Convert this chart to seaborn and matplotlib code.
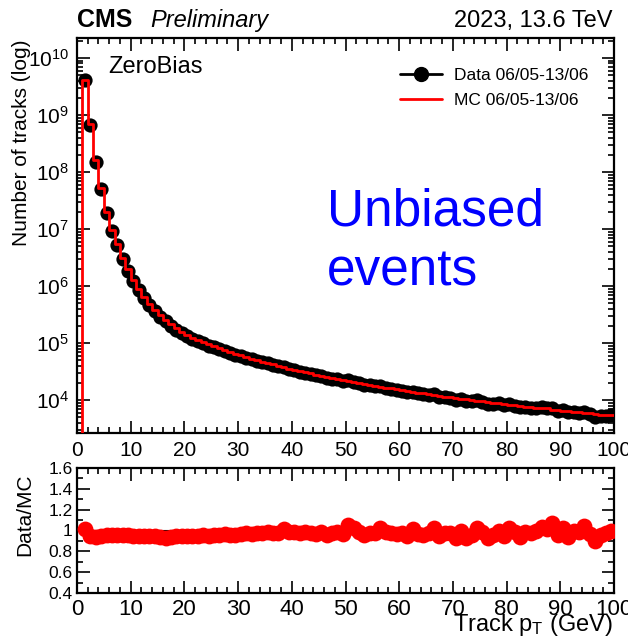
import numpy as np
import pandas as pd
import matplotlib
matplotlib.use("Agg")
import matplotlib.pyplot as plt
import seaborn as sns
from matplotlib.lines import Line2D
from matplotlib.ticker import (MultipleLocator, LogLocator, NullFormatter,
                               FormatStrFormatter)

# Track pT binning: 1 GeV bins from 1 to 100 GeV
bin_edges = list(range(1, 101))

# Simulated (MC) number of tracks per bin
mc_tracks = [
    4.07e9, 7.0e8, 1.62e8, 5.25e7, 2.0e7, 9.5e6, 5.4e6, 3.16e6, 1.95e6, 1.29e6,
    8.9e5, 6.45e5, 4.9e5, 3.8e5, 3.09e5, 2.57e5, 2.14e5, 1.82e5, 1.58e5,
    1.37e5, 1.24e5, 1.13e5, 1.035e5, 9.5e4, 8.75e4, 8.09e4, 7.50e4, 6.97e4, 6.49e4,
    6.07e4, 5.68e4, 5.32e4, 5.00e4, 4.71e4, 4.45e4, 4.20e4, 3.97e4, 3.76e4, 3.56e4,
    3.39e4, 3.23e4, 3.07e4, 2.93e4, 2.79e4, 2.67e4, 2.55e4, 2.44e4, 2.34e4, 2.25e4,
    2.16e4, 2.07e4, 1.99e4, 1.91e4, 1.85e4, 1.78e4, 1.71e4, 1.65e4, 1.60e4, 1.54e4,
    1.49e4, 1.44e4, 1.39e4, 1.35e4, 1.31e4, 1.26e4, 1.23e4, 1.19e4, 1.15e4, 1.12e4,
    1.09e4, 1.057e4, 1.03e4, 1.00e4, 9710, 9460, 9200, 8950, 8730, 8510,
    8300, 8070, 7890, 7690, 7500, 7330, 7160, 7150, 6820, 6670,
    6520, 6550, 6240, 6100, 5970, 5850, 5710, 5450, 5480, 5370,
]

# Data / MC ratio per bin
data_mc_ratio = [
    1.01, 0.95, 0.94, 0.95, 0.96, 0.96, 0.96, 0.955, 0.955,
    0.95, 0.95, 0.945, 0.945, 0.945, 0.94, 0.93, 0.94, 0.945, 0.945,
    0.95, 0.945, 0.95, 0.955, 0.95, 0.955, 0.96, 0.965, 0.955, 0.96,
    0.965, 0.975, 0.97, 0.98, 0.975, 0.99, 0.975, 0.98, 1.01, 0.99,
    0.985, 0.975, 0.985, 0.98, 0.97, 0.99, 0.96, 0.975, 0.985, 0.97,
    1.05, 1.02, 0.99, 0.96, 0.975, 0.98, 1.02, 0.985, 0.975, 0.97,
    0.975, 0.945, 1.015, 0.97, 0.96, 0.98, 1.025, 0.945, 0.975, 0.98,
    0.925, 1.0, 0.93, 0.96, 1.025, 0.985, 0.925, 0.96, 1.0, 0.945,
    1.02, 0.985, 0.94, 0.99, 0.98, 1.0, 1.035, 1.01, 1.07, 0.96,
    1.02, 0.94, 1.0, 0.985, 1.045, 0.97, 0.90, 0.955, 0.975, 1.0,
]

legend_labels = ["Data 06/05-13/06", "MC 06/05-13/06"]

edges = np.array(bin_edges, dtype=float)
centers = (edges[:-1] + edges[1:]) / 2
mc = np.array(mc_tracks, dtype=float)
ratio = np.array(data_mc_ratio, dtype=float)
df = pd.DataFrame({"pt": centers, "mc": mc, "ratio": ratio,
                   "data": mc * ratio})

sns.set_theme(style="ticks")
plt.rcParams["font.family"] = ["Liberation Sans", "DejaVu Sans"]
plt.rcParams["mathtext.default"] = "regular"
plt.rcParams["text.color"] = "black"
plt.rcParams["axes.labelcolor"] = "black"
plt.rcParams["xtick.color"] = "black"
plt.rcParams["ytick.color"] = "black"

W, H = 628, 641
fig = plt.figure(figsize=(W / 100, H / 100), dpi=100)
ax1 = fig.add_axes([77 / W, 1 - 433 / H, 537 / W, 395 / H])
ax2 = fig.add_axes([77 / W, 1 - 593 / H, 537 / W, 125 / H])

y_lo, y_hi = 2.64e3, 2.24e10

# --- upper panel: track pT spectrum ---
ax1.set_yscale("log")
ax1.errorbar(df["pt"], df["data"], xerr=0.5, fmt="none", ecolor="black",
             elinewidth=2.5, zorder=2)
sns.scatterplot(data=df, x="pt", y="data", color="black", s=105, linewidth=0,
                ax=ax1, zorder=3, legend=False)
sns.histplot(data=df, x="pt", weights="mc", bins=bin_edges, element="step",
             fill=False, color="red", linewidth=2, ax=ax1, zorder=4)
ax1.vlines(edges[0], y_lo, mc[0], color="red", linewidth=2, zorder=4)

ax1.set_xlim(0, 100)
ax1.set_ylim(y_lo, y_hi)
ax1.set_xlabel("")
ax1.set_ylabel("")
ax1.xaxis.set_major_locator(MultipleLocator(10))
ax1.xaxis.set_minor_locator(MultipleLocator(2))
ax1.yaxis.set_major_locator(LogLocator(base=10, numticks=20))
ax1.yaxis.set_minor_locator(LogLocator(base=10, subs=np.arange(2, 10), numticks=20))
ax1.yaxis.set_minor_formatter(NullFormatter())
ax1.tick_params(axis="both", which="major", labelsize=15, pad=6)

# --- lower panel: data / MC ---
ax2.axhline(1.0, color="black", linewidth=1.5, zorder=1)
ax2.errorbar(df["pt"], df["ratio"], xerr=0.5, fmt="none", ecolor="red",
             elinewidth=3, zorder=2)
sns.scatterplot(data=df, x="pt", y="ratio", color="red", s=130, linewidth=0,
                ax=ax2, zorder=3, legend=False)
ax2.set_xlim(0, 100)
ax2.set_ylim(0.4, 1.6)
ax2.set_xlabel("")
ax2.set_ylabel("")
ax2.xaxis.set_major_locator(MultipleLocator(10))
ax2.xaxis.set_minor_locator(MultipleLocator(2))
ax2.yaxis.set_major_locator(MultipleLocator(0.2))
ax2.yaxis.set_minor_locator(MultipleLocator(0.1))
ax2.yaxis.set_major_formatter(FormatStrFormatter("%g"))
ax2.tick_params(axis="x", which="major", labelsize=16, pad=4)
ax2.tick_params(axis="y", which="major", labelsize=12.5, pad=3)

for ax in (ax1, ax2):
    ax.tick_params(which="both", direction="in", top=True, right=True,
                   color="black", labelcolor="black")
    ax.tick_params(which="major", length=9, width=1.2)
    ax.tick_params(which="minor", length=4.5, width=1.2)
    for sp in ax.spines.values():
        sp.set_linewidth(1.6)
        sp.set_color("black")
    ax.set_facecolor("white")

# legend
handles = [Line2D([], [], color="black", marker="o", markersize=10, linewidth=2),
           Line2D([], [], color="red", linewidth=2)]
ax1.legend(handles, legend_labels, loc="upper left",
           bbox_to_anchor=(400 / W, 1 - 68 / H), bbox_transform=fig.transFigure,
           frameon=False, fontsize=12.5, handlelength=2.4, handletextpad=0.7,
           labelspacing=0.55, borderpad=0, borderaxespad=0)

# axis titles
fig.text(22 / W, 1 - 143 / H, "Number of tracks (log)", rotation=90,
         ha="center", va="center", fontsize=15)
fig.text(25 / W, 1 - 515 / H, "Data/MC", rotation=90,
         ha="center", va="center", fontsize=15)
fig.text(613 / W, 1 - 625 / H, r"Track $p_{T}$ (GeV)", ha="right",
         va="center", fontsize=17)

# header and annotations
fig.text(77 / W, 1 - 27 / H, "CMS", fontweight="bold", fontsize=18,
         va="baseline")
fig.text(150 / W, 1 - 27 / H, "Preliminary", style="italic", fontsize=17,
         va="baseline")
fig.text(613 / W, 1 - 27 / H, "2023, 13.6 TeV", fontsize=17, ha="right",
         va="baseline")
fig.text(108 / W, 1 - 73 / H, "ZeroBias", fontsize=17, va="baseline")
fig.text(327 / W, 1 - 226 / H, "Unbiased", color="#0000ff", fontsize=37,
         va="baseline")
fig.text(327 / W, 1 - 285 / H, "events", color="#0000ff", fontsize=37,
         va="baseline")

fig.savefig("out.png", dpi=100, facecolor="white")
